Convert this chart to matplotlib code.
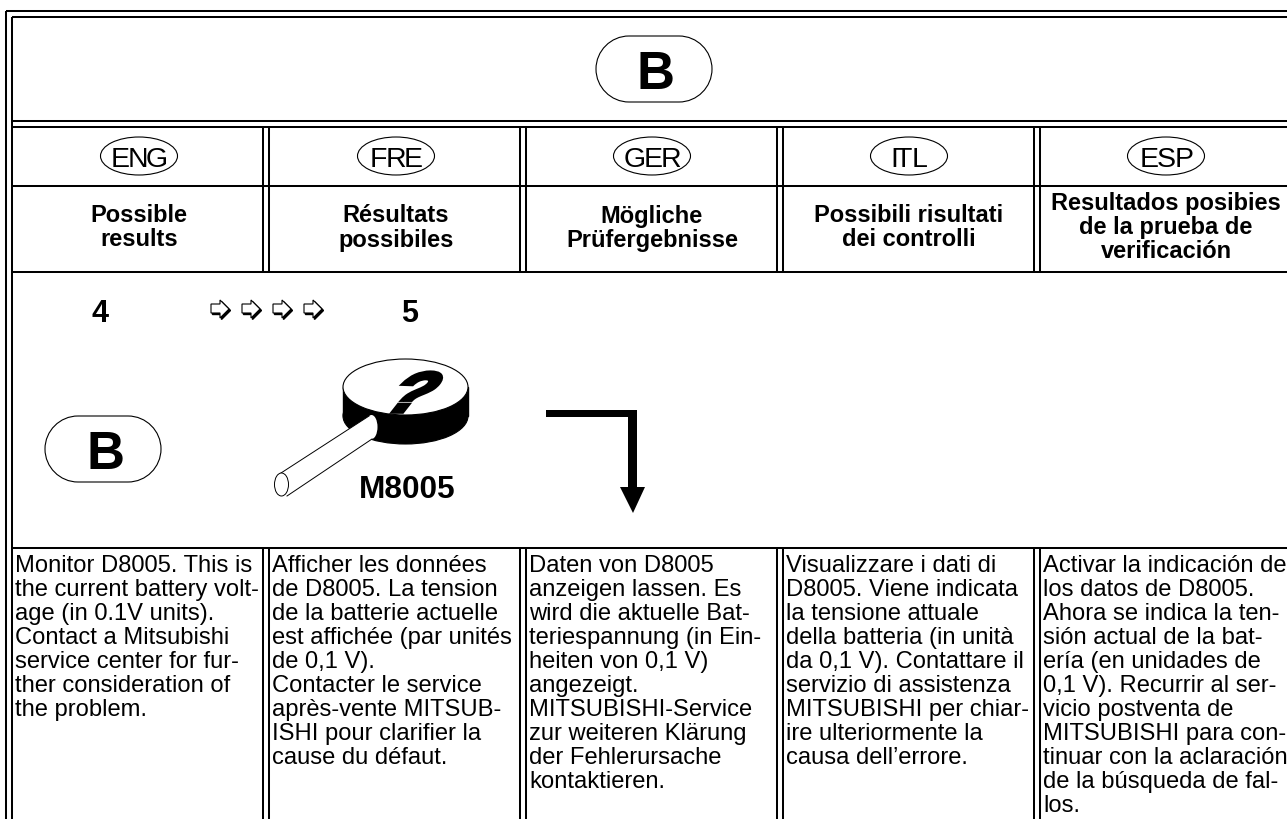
#!/usr/bin/python3

import numpy as np
import matplotlib
matplotlib.use('Agg')
import matplotlib.pyplot as plt
from matplotlib.patches import Ellipse, PathPatch, Polygon
from matplotlib.path import Path
from matplotlib.textpath import TextPath
from matplotlib.font_manager import FontProperties
from matplotlib.transforms import Affine2D

plt.rcParams['font.family'] = ['Liberation Sans', 'DejaVu Sans']

languages = ['ENG', 'FRE', 'GER', 'ITL', 'ESP']
titles = [
    ['Possible', 'results'],
    ['Résultats', 'possibiles'],
    ['Mögliche', 'Prüfergebnisse'],
    ['Possibili risultati', 'dei controlli'],
    ['Resultados posibies', 'de la prueba de', 'verificación'],
]
body_text = [
    ['Monitor D8005. This is', 'the current battery volt-', 'age (in 0.1V units).',
     'Contact a Mitsubishi', 'service center for fur-', 'ther consideration of', 'the problem.'],
    ['Afficher les données', 'de D8005. La tension', 'de la batterie actuelle',
     'est affichée (par unités', 'de 0,1 V).', 'Contacter le service',
     'après-vente MITSUB-', 'ISHI pour clarifier la', 'cause du défaut.'],
    ['Daten von D8005', 'anzeigen lassen. Es', 'wird die aktuelle Bat-',
     'teriespannung (in Ein-', 'heiten von 0,1 V)', 'angezeigt.',
     'MITSUBISHI-Service', 'zur weiteren Klärung', 'der Fehlerursache', 'kontaktieren.'],
    ['Visualizzare i dati di', 'D8005. Viene indicata', 'la tensione attuale',
     'della batteria (in unità', 'da 0,1 V). Contattare il', 'servizio di assistenza',
     'MITSUBISHI per chiar-', 'ire ulteriormente la', 'causa dell’errore.'],
    ['Activar la indicación de', 'los datos de D8005.', 'Ahora se indica la ten-',
     'sión actual de la bat-', 'ería (en unidades de', '0,1 V). Recurrir al ser-',
     'vicio postventa de', 'MITSUBISHI para con-', 'tinuar con la aclaración',
     'de la búsqueda de fal-', 'los.'],
]
step_labels = ['4', '5']
device_label = 'M8005'
badge_label = 'B'

W, H = 1287, 820
LW = 1.45
fig = plt.figure(figsize=(W / 100, H / 100), dpi=100)
ax = fig.add_axes([0, 0, 1, 1])
ax.set_xlim(0, W)
ax.set_ylim(H, 0)
ax.axis('off')


def hline(y, x0=12, x1=W):
    ax.plot([x0, x1], [y, y], color='black', lw=LW, solid_capstyle='butt')


def vline(x, y0, y1=H):
    ax.plot([x, x], [y0, y1], color='black', lw=LW, solid_capstyle='butt')


def badge(x0, y0, x1, y1):
    # stadium outline with round ends
    r = (y1 - y0) / 2
    k = 0.55 * r
    verts = [(x0 + r, y0), (x1 - r, y0),
             (x1 - r + k, y0), (x1, y0 + r - k), (x1, y0 + r),
             (x1, y1 - r + k), (x1 - r + k, y1), (x1 - r, y1),
             (x0 + r, y1),
             (x0 + r - k, y1), (x0, y1 - r + k), (x0, y0 + r),
             (x0, y0 + r - k), (x0 + r - k, y0), (x0 + r, y0)]
    codes = [Path.MOVETO, Path.LINETO] + [Path.CURVE4] * 6 + [Path.LINETO] + [Path.CURVE4] * 6
    ax.add_patch(PathPatch(Path(verts, codes), fc='white', ec='black', lw=0.8))
    ax.text((x0 + x1) / 2 + 2, y1 - 14, badge_label, ha='center', va='baseline',
            fontsize=38, fontweight='bold')


# frame and table grid
hline(12, 6)
hline(18)
hline(122)
hline(128)
hline(187)
hline(273)
hline(549)
vline(6, 12)
vline(12, 18)
for x in [263, 520, 777, 1034]:
    vline(x, 128, 273)
    vline(x + 6, 128, 273)
    vline(x, 549)
    vline(x + 6, 549)

badge(596, 37, 712, 103)

centers = [139, 396, 652, 909, 1166]
for cx, lang, title in zip(centers, languages, titles):
    ax.add_patch(Ellipse((cx, 157), 77, 38, fc='white', ec='black', lw=0.8))
    # the letters of the language marks are set very tight
    sizes = [TextPath((0, 0), c, size=28.5).get_extents().width for c in lang]
    total = sum(sizes) + 1.5 * (len(lang) - 1)
    x = cx - total / 2 - 1.5
    for c, s in zip(lang, sizes):
        ax.text(x, 167, c, ha='left', va='baseline', fontsize=20.5)
        x += s + 1.5
    base = 222.5 if len(title) == 2 else 210
    for i, line in enumerate(title):
        ax.text(cx, base + i * 24, line, ha='center', va='baseline',
                fontsize=17, fontweight='bold')

lefts = [15, 272, 529, 786, 1043]
for x, lines in zip(lefts, body_text):
    for i, line in enumerate(lines):
        ax.text(x, 572 + i * 24, line, ha='left', va='baseline', fontsize=17.1)

# step numbers with the row of small arrows
ax.text(100, 322, step_labels[0], ha='center', va='baseline', fontsize=22, fontweight='bold')
ax.text(410, 322, step_labels[1], ha='center', va='baseline', fontsize=22, fontweight='bold')
for x in [211, 242, 273, 304]:
    pts = np.array([[0, 4], [9, 4], [9, 0], [18, 9], [9, 18], [9, 13], [0, 13]], dtype=float)
    ax.add_patch(Polygon(pts + [x + 1.5, 302.5], closed=True, fc='black', ec='black', lw=1))
    ax.add_patch(Polygon(pts + [x, 301], closed=True, fc='white', ec='black', lw=0.8))

badge(45, 417, 161, 483)

# magnifier: thick disk with a question mark on it
ax.add_patch(Ellipse((405.5, 417), 125, 56, fc='black', ec='black', lw=0.8))
ax.add_patch(Polygon([[343, 388], [468, 388], [468, 417], [343, 417]], closed=True, fc='black', ec='black'))
ax.add_patch(Ellipse((405.5, 388), 125, 56, fc='white', ec='black', lw=0.8))
fp = FontProperties(family='Liberation Sans', weight='bold')
q = TextPath((0, 0), '?', size=60, prop=fp)
tr = Affine2D().skew_deg(33, 0).scale(1.15, -0.95).translate(378, 413) + ax.transData
ax.add_patch(PathPatch(q, fc='black', ec='black', lw=2.6, transform=tr))

# handle
ax.add_patch(Polygon([[281, 474], [369, 417], [372, 440], [287, 497]], closed=True, fc='white', ec='none', zorder=3))
ax.plot([281, 369], [474, 417], color='black', lw=0.7, zorder=4)
ax.plot([287, 372], [497, 440], color='black', lw=0.7, zorder=4)
ax.add_patch(Ellipse((371.5, 428), 12, 24, fc='white', ec='none', zorder=3))
ax.add_patch(Ellipse((281.5, 485.5), 14, 23, fc='white', ec='black', lw=0.7, zorder=4))
ax.text(407, 498, device_label, ha='center', va='baseline', fontsize=22.8, fontweight='bold')

# big bent arrow
ax.add_patch(Polygon([[546, 411], [637, 411], [637, 488], [645, 488], [633, 514], [620, 488],
                      [628, 488], [628, 418], [546, 418]], closed=True, fc='black', ec='none'))

fig.savefig('out.png', dpi=100)
